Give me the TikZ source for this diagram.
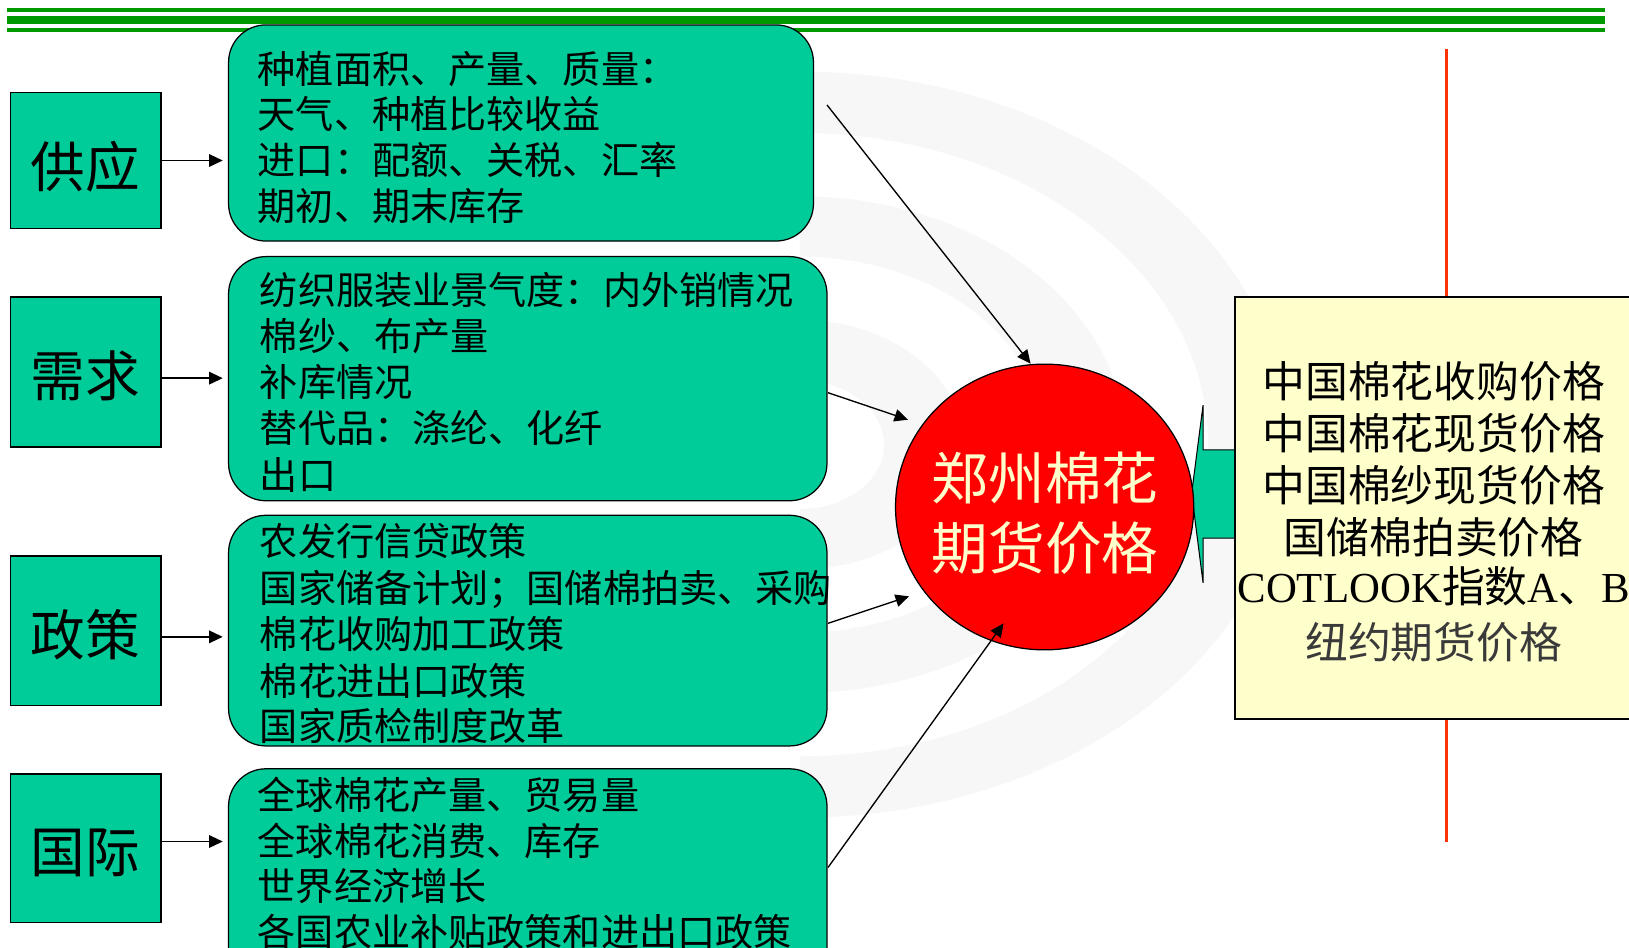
\documentclass[tikz,border=0pt]{standalone}
\usepackage{fontspec}
\setmainfont{Liberation Serif}
\newfontfamily\cjk{Noto Sans CJK SC}
\usetikzlibrary{arrows.meta,shapes.geometric}
\definecolor{topgreen}{HTML}{009900}
\definecolor{boxgreen}{HTML}{00CC99}
\definecolor{paleyellow}{HTML}{FFFFCC}
\definecolor{wmgray}{HTML}{F7F7F7}
\definecolor{redline}{HTML}{FF3300}
\definecolor{softblack}{HTML}{3A3A3A}
\begin{document}
\begin{tikzpicture}[x=1pt,y=-1pt,
  sq/.style={draw=black, line width=1.5pt, fill=boxgreen, inner sep=0pt},
  gbox/.style={draw=black, line width=1.2pt, fill=boxgreen, rounded corners=36pt, inner sep=0pt},
  conn/.style={line width=1.3pt, -{Triangle[length=13pt,width=12pt]}},
  sqlabel/.style={anchor=base, inner sep=0pt, font=\cjk\fontsize{52.6}{60}\selectfont},
  gline/.style={anchor=base west, inner sep=0pt, font=\cjk\fontsize{36.7}{44}\selectfont},
  rline/.style={anchor=base, inner sep=0pt, font=\cjk\fontsize{41.2}{50}\selectfont},
  cline/.style={anchor=base, inner sep=0pt, text=paleyellow, font=\cjk\fontsize{54.5}{62}\selectfont},
]
\useasboundingbox (0,0) rectangle (1568,912);
\clip (0,0) rectangle (1568,912);
\fill[white] (0,0) rectangle (1568,912);

% watermark bands
\begin{scope}
  \clip (770,0) rectangle (1568,912);
  \fill[wmgray, even odd rule] (770,428) ellipse [x radius=470.3, y radius=359] (770,428) ellipse [x radius=393, y radius=300];
  \fill[wmgray, even odd rule] (770,428) ellipse [x radius=313, y radius=239] (770,428) ellipse [x radius=237, y radius=181];
  \fill[wmgray, even odd rule] (770,428) ellipse [x radius=157, y radius=120] (770,428) ellipse [x radius=81, y radius=62];
\end{scope}

% top rules
\fill[topgreen] (7,7.7) rectangle (1545,11.5);
\fill[topgreen] (7,15.4) rectangle (1545,23.1);
\fill[topgreen] (7,27) rectangle (1545,30.8);

% red vertical line
\draw[redline, line width=2.8pt] (1392,47) -- (1392,810);

% left squares
\node[sq, minimum width=144.5pt, minimum height=131pt] (sq1) at (82.5,154.5) {};
\node[sq, minimum width=144.5pt, minimum height=144pt] (sq2) at (82.5,358) {};
\node[sq, minimum width=144.5pt, minimum height=144pt] (sq3) at (82.5,607) {};
\node[sq, minimum width=144.5pt, minimum height=143pt] (sq4) at (82.5,816.5) {};
\node[sqlabel] (sq1t) at (82,180) {供应};
\node[sqlabel] (sq2t) at (82,382) {需求};
\node[sqlabel] (sq3t) at (82,631) {政策};
\node[sqlabel] (sq4t) at (82,840) {国际};

% green rounded boxes
\node[gbox, minimum width=563pt, minimum height=208pt] (gb1) at (501.5,128) {};
\node[gbox, minimum width=576pt, minimum height=235pt] (gb2) at (508,364.5) {};
\node[gbox, minimum width=576pt, minimum height=222pt] (gb3) at (508,607) {};
\node[gbox, minimum width=576pt, minimum height=230pt] (gb4) at (508,855) {};

\node[gline] (gb1a) at (248,80) {种植面积、产量、质量：};
\node[gline] (gb1b) at (248,124) {天气、种植比较收益};
\node[gline] (gb1c) at (248,168) {进口：配额、关税、汇率};
\node[gline] (gb1d) at (248,212) {期初、期末库存};

\node[gline] (gb2a) at (250,293) {纺织服装业景气度：内外销情况};
\node[gline] (gb2b) at (250,337) {棉纱、布产量};
\node[gline] (gb2c) at (250,382) {补库情况};
\node[gline] (gb2d) at (250,426) {替代品：涤纶、化纤};
\node[gline] (gb2e) at (250,471) {出口};

\node[gline] (gb3a) at (250,535) {农发行信贷政策};
\node[gline] (gb3b) at (250,580) {国家储备计划；国储棉拍卖、采购};
\node[gline] (gb3c) at (250,624) {棉花收购加工政策};
\node[gline] (gb3d) at (250,669) {棉花进出口政策};
\node[gline] (gb3e) at (250,713) {国家质检制度改革};

\node[gline] (gb4a) at (248,779) {全球棉花产量、贸易量};
\node[gline] (gb4b) at (248,823) {全球棉花消费、库存};
\node[gline] (gb4c) at (248,867) {世界经济增长};
\node[gline] (gb4d) at (248,911) {各国农业补贴政策和进出口政策};

% square -> box arrows
\draw[conn, shorten >=5pt] (sq1.east) -- (sq1.east -| gb1.west);
\draw[conn, shorten >=5pt] (sq2.east |- 0,364) coordinate (s2) -- (s2 -| gb2.west);
\draw[conn, shorten >=5pt] (sq3.east |- 0,613) coordinate (s3) -- (s3 -| gb3.west);
\draw[conn, shorten >=5pt] (sq4.east |- 0,810) coordinate (s4) -- (s4 -| gb4.west);

% block arrow from the right box to the circle
\draw[fill=boxgreen, line width=1pt] (1195,433) -- (1158,433) -- (1158,390) -- (1147,475) -- (1158,561) -- (1158,518) -- (1195,518);

% circle
\node[ellipse, draw=black, line width=1.2pt, fill=red, minimum width=287pt, minimum height=275pt, inner sep=0pt] (circ) at (1005.5,488) {};
\node[cline] (circa) at (1006,481) {郑州棉花};
\node[cline] (circb) at (1006,548) {期货价格};

% box -> circle arrows
\coordinate (a1s) at (796,101);
\coordinate (a1e) at (992,350);
\coordinate (a2s) at (797,378);
\coordinate (a2e) at (874,404);
\coordinate (a3s) at (797,600);
\coordinate (a3e) at (875,574);
\coordinate (a4s) at (797,835);
\coordinate (a4e) at (966,600);
\draw[conn] (a1s) -- (a1e);
\draw[conn] (a2s) -- (a2e);
\draw[conn] (a3s) -- (a3e);
\draw[conn] (a4s) -- (a4e);

% right box
\node[draw=black, line width=1.5pt, fill=paleyellow, minimum width=382pt, minimum height=406pt, inner sep=0pt] (rbox) at (1380,489) {};
\node[rline] (r1) at (1380,383) {中国棉花收购价格};
\node[rline] (r2) at (1380,433) {中国棉花现货价格};
\node[rline] (r3) at (1380,483) {中国棉纱现货价格};
\node[rline] (r4) at (1380,533) {国储棉拍卖价格};
\node[rline] (r5) at (1380,580) {{\rmfamily COTLOOK}指数{\rmfamily A}、{\rmfamily B}};
\node[rline, text=softblack] (r6) at (1380,634) {纽约期货价格};
\end{tikzpicture}
\end{document}
